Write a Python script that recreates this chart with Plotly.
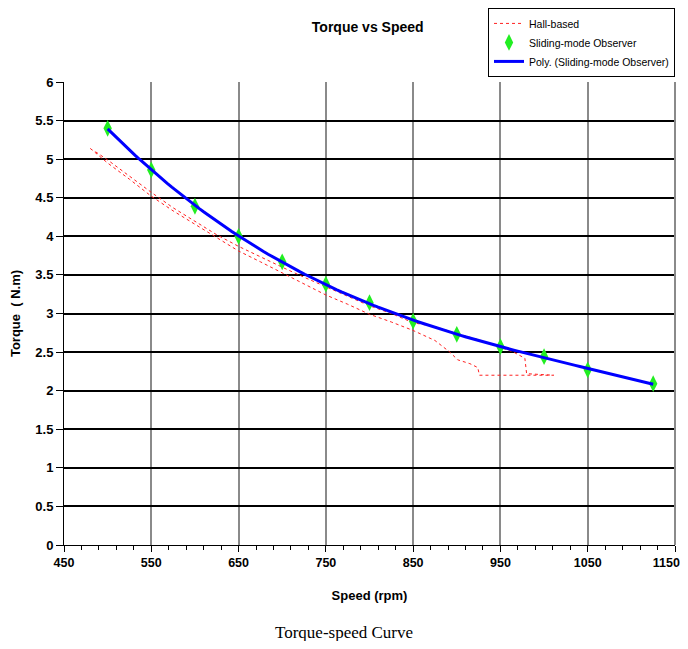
import numpy as np
import plotly.graph_objects as go

# Sliding-mode observer samples
smo_speed = [500, 550, 600, 650, 700, 750, 800, 850, 900, 950, 1000, 1050, 1125]
smo_torque = [5.40, 4.86, 4.39, 4.00, 3.67, 3.38, 3.14, 2.90, 2.73, 2.57, 2.44, 2.27, 2.09]

# Hall-based trace (read along the dotted red path)
hall_speed = [480, 500, 525, 550, 575, 600, 625, 650, 675, 700, 725, 750, 775, 800, 825, 850,
              875, 892, 901, 915, 924, 926, 960, 975, 1011, 980, 978, 965, 950, 925, 900, 875,
              850, 825, 800, 775, 750, 725, 700, 675, 650, 625, 600, 575, 550, 525, 500, 483]
hall_torque = [5.14, 4.95, 4.74, 4.52, 4.33, 4.16, 3.98, 3.81, 3.67, 3.53, 3.39, 3.24, 3.12, 2.99,
               2.89, 2.78, 2.65, 2.50, 2.40, 2.35, 2.30, 2.20, 2.20, 2.20, 2.20, 2.22, 2.42, 2.50,
               2.56, 2.66, 2.74, 2.83, 2.88, 3.00, 3.10, 3.22, 3.35, 3.47, 3.60, 3.73, 3.87, 4.02,
               4.19, 4.37, 4.57, 4.78, 4.99, 5.12]

x_ticks = [450, 550, 650, 750, 850, 950, 1050, 1150]
y_ticks = [0, 0.5, 1, 1.5, 2, 2.5, 3, 3.5, 4, 4.5, 5, 5.5, 6]

coef = np.polyfit(smo_speed, smo_torque, 3)
poly_x = np.linspace(min(smo_speed), max(smo_speed), 120)
poly_y = np.polyval(coef, poly_x)

FONT = "Liberation Sans, Arial, sans-serif"

x_ticktext = [f"<b>{v}</b>" for v in x_ticks]
x_ticktext[-1] = x_ticktext[-1] + "&nbsp;" * 5  # keep last label inside the page

fig = go.Figure()
fig.add_trace(go.Scatter(x=hall_speed, y=hall_torque, mode="lines", name="Hall-based",
                         line=dict(color="#ff2020", width=1, dash="dot")))
fig.add_trace(go.Scatter(x=smo_speed, y=smo_torque, mode="markers", name="Sliding-mode Observer",
                         marker=dict(symbol="diamond-tall", color="#22ee22", size=12,
                                     line=dict(width=0))))
fig.add_trace(go.Scatter(x=poly_x, y=poly_y, mode="lines", name="Poly. (Sliding-mode Observer)",
                         line=dict(color="#0000ff", width=3)))

fig.update_layout(
    width=680, height=633,
    margin=dict(l=56, r=13, t=74, b=96, autoexpand=False),
    paper_bgcolor="white", plot_bgcolor="white",
    font=dict(family=FONT, size=13, color="black"),
    title=dict(text="<b>Torque vs Speed</b>", x=0.529, xanchor="center", y=1 - 19 / 633,
               yanchor="middle", font=dict(family=FONT, size=14)),
    showlegend=True,
    legend=dict(x=1.0, y=1.16, xanchor="right", yanchor="top", bgcolor="white",
                bordercolor="black", borderwidth=1, font=dict(family=FONT, size=10.5),
                itemwidth=30, tracegroupgap=2),
    annotations=[
        dict(text="Torque-speed Curve", xref="paper", yref="paper", x=0.458, y=-0.19,
             xanchor="center", yanchor="middle", showarrow=False,
             font=dict(family="Liberation Serif, Times New Roman, serif", size=17)),
    ],
)
fig.update_xaxes(
    range=[450, 1150], tickvals=x_ticks, ticktext=x_ticktext,
    tickfont=dict(size=12.5),
    showgrid=True, gridcolor="#8a8a8a", gridwidth=2,
    showline=True, linecolor="black", linewidth=1, mirror=False,
    ticks="outside", ticklen=6, tickcolor="black", ticklabeloverflow="allow",
    minor=dict(dtick=20, tick0=450, ticks="outside", ticklen=4, tickcolor="black", showgrid=False),
    title=dict(text="<b>Speed (rpm)</b>", font=dict(size=13), standoff=21),
    zeroline=False, fixedrange=True, automargin=False,
)
fig.update_yaxes(
    range=[0, 6], tickvals=y_ticks, ticktext=[f"<b>{v:g}</b>" for v in y_ticks],
    showgrid=True, gridcolor="black", gridwidth=1.5,
    showline=True, linecolor="black", linewidth=1,
    ticks="outside", ticklen=7, tickcolor="black",
    title=dict(text="<b>Torque  ( N.m)</b>", font=dict(size=13), standoff=14),
    zeroline=False, fixedrange=True, automargin=False,
)
# right border of plotting area
fig.add_shape(type="line", xref="paper", yref="paper", x0=1, x1=1, y0=0, y1=1,
              layer="above", line=dict(color="#8a8a8a", width=2))

fig.write_html("out.html")
